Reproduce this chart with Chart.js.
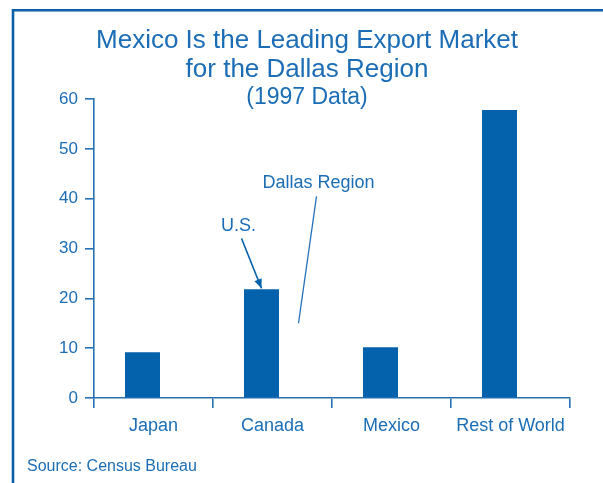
<!DOCTYPE html>
<html>
<head>
<meta charset="utf-8">
<script src="https://cdn.jsdelivr.net/npm/chart.js@4/dist/chart.umd.min.js"></script>
<style>
    body { margin: 0; background: #ffffff; }
    canvas { display: block; }
</style>
</head>
<body>
<canvas id="exportChart" width="603" height="483"></canvas>
<script>
// data
var markets = ["Japan", "Canada", "Mexico", "Rest of World"];
var usShare = [9.2, 21.8, 10.2, 57.8];
// Dallas Region bars are drawn white in the original, values not readable
var dallasShare = [null, null, null, null];
var yTicks = [0, 10, 20, 30, 40, 50, 60];

var blueText = "#1b6db5";
var blueBar = "#0461ab";
var blueLine = "#2671b6";

Chart.defaults.font.family = "'Liberation Sans', Arial, Helvetica, sans-serif";

// frame, titles and the two pointers
var decorations = {
    id: "decorations",
    beforeDraw: function (chart) {
        var ctx = chart.ctx;
        ctx.save();
        ctx.fillStyle = "#ffffff";
        ctx.fillRect(0, 0, chart.width, chart.height);
        ctx.strokeStyle = "#0b5fa8";
        ctx.lineWidth = 2.6;
        ctx.beginPath();
        ctx.moveTo(13, chart.height);
        ctx.lineTo(13, 10.3);
        ctx.lineTo(chart.width, 10.3);
        ctx.stroke();
        ctx.restore();
    },
    afterDraw: function (chart) {
        var ctx = chart.ctx;
        ctx.save();
        ctx.fillStyle = blueText;
        ctx.textAlign = "center";
        ctx.textBaseline = "alphabetic";
        ctx.font = "26px 'Liberation Sans', Arial, sans-serif";
        ctx.fillText("Mexico Is the Leading Export Market", 307, 48);
        ctx.fillText("for the Dallas Region", 307, 77);
        ctx.font = "23px 'Liberation Sans', Arial, sans-serif";
        ctx.fillText("(1997 Data)", 307, 104);

        // U.S. arrow onto the Canada bar
        var bar = chart.getDatasetMeta(0).data[1];
        var tipX = bar.x, tipY = bar.y - 1;
        var fromX = bar.x - 20, fromY = bar.y - 51;
        ctx.strokeStyle = blueBar;
        ctx.fillStyle = blueBar;
        ctx.lineWidth = 1.5;
        ctx.beginPath();
        ctx.moveTo(fromX, fromY);
        ctx.lineTo(tipX, tipY);
        ctx.stroke();
        var ang = Math.atan2(tipY - fromY, tipX - fromX);
        ctx.beginPath();
        ctx.moveTo(tipX, tipY);
        ctx.lineTo(tipX - 10 * Math.cos(ang - 0.4), tipY - 10 * Math.sin(ang - 0.4));
        ctx.lineTo(tipX - 10 * Math.cos(ang + 0.4), tipY - 10 * Math.sin(ang + 0.4));
        ctx.closePath();
        ctx.fill();

        ctx.fillStyle = blueText;
        ctx.font = "18px 'Liberation Sans', Arial, sans-serif";
        ctx.fillText("U.S.", bar.x - 23, bar.y - 58);

        // Dallas Region pointer
        var yScale = chart.scales.y;
        ctx.strokeStyle = blueLine;
        ctx.lineWidth = 1.3;
        ctx.beginPath();
        ctx.moveTo(bar.x + 37, yScale.getPixelForValue(15));
        ctx.lineTo(bar.x + 55, bar.y - 93);
        ctx.stroke();
        ctx.fillText("Dallas Region", bar.x + 57, bar.y - 101);

        ctx.textAlign = "left";
        ctx.font = "16px 'Liberation Sans', Arial, sans-serif";
        ctx.fillText("Source: Census Bureau", 27, 471);
        ctx.restore();
    },
};

var ctx = document.getElementById("exportChart").getContext("2d");
var exportChart = new Chart(ctx, {
    type: "bar",
    data: {
        labels: markets,
        datasets: [
            {
                label: "U.S.",
                data: usShare,
                backgroundColor: blueBar,
                borderWidth: 0,
                categoryPercentage: 0.37,
                barPercentage: 1.59,
            },
            {
                label: "Dallas Region",
                data: dallasShare,
                backgroundColor: "#ffffff",
                borderWidth: 0,
                categoryPercentage: 0.37,
                barPercentage: 1.59,
            },
        ],
    },
    options: {
        responsive: false,
        animation: false,
        layout: {
            padding: { top: 99, right: 33, left: 0, bottom: 0 },
        },
        plugins: {
            legend: { display: false },
            title: { display: false },
            tooltip: { enabled: false },
        },
        scales: {
            x: {
                afterFit: function (scale) {
                    scale.height = 85;
                },
                border: { display: true, color: blueLine, width: 1.6 },
                grid: {
                    offset: true,
                    drawOnChartArea: false,
                    drawTicks: true,
                    tickLength: 10,
                    color: blueLine,
                    lineWidth: 1.6,
                },
                ticks: {
                    color: blueText,
                    padding: 7,
                    maxRotation: 0,
                    font: { size: 18 },
                },
            },
            y: {
                min: 0,
                max: 60,
                afterFit: function (scale) {
                    scale.width = 94;
                },
                afterBuildTicks: function (scale) {
                    scale.ticks = yTicks.map(function (v) {
                        return { value: v };
                    });
                },
                border: { display: true, color: blueLine, width: 1.6 },
                grid: {
                    drawOnChartArea: false,
                    drawTicks: true,
                    tickLength: 9,
                    color: blueLine,
                    lineWidth: 1.6,
                },
                ticks: {
                    color: blueText,
                    padding: 7,
                    font: { size: 17 },
                },
            },
        },
    },
    plugins: [decorations],
});
</script>
</body>
</html>
